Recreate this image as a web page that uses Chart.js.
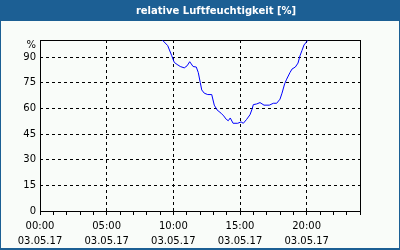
<!DOCTYPE html>
<html>
<head>
<meta charset="utf-8">
<script src="https://cdn.jsdelivr.net/npm/chart.js@4.4.0/dist/chart.umd.min.js"></script>
<style>
  body { margin: 0; background: #ffffff; }
  canvas { display: block; }
</style>
</head>
<body>
<canvas id="humChart" width="400" height="250"></canvas>
<script>
// time of day in hours (03.05.17) and relative humidity in %
const hours = [9.17, 9.58, 9.88, 10.07, 10.28, 10.52, 10.82, 11.03, 11.23, 11.48,
  11.72, 11.87, 12.02, 12.13, 12.32, 12.58, 12.88, 13.07, 13.28, 13.58,
  13.78, 13.97, 14.12, 14.27, 14.48, 14.83, 15.08, 15.25, 15.5, 15.75,
  15.9, 16.0, 16.25, 16.5, 16.8, 17.2, 17.5, 17.75, 18.0, 18.15,
  18.35, 18.5, 18.75, 18.9, 19.15, 19.35, 19.5, 19.65, 19.8, 20.0, 20.05];
const humidity = [100, 96.7, 90.8, 86.9, 85.7, 84.5, 83.7, 84.9, 87.3, 84.5,
  84.2, 81.0, 75.1, 70.8, 68.9, 68.1, 68.1, 61.9, 59.1, 57.2,
  55.6, 53.6, 52.8, 54.4, 51.3, 51.3, 52.1, 51.3, 53.6, 56.3,
  59.5, 62.2, 62.6, 63.4, 61.9, 61.9, 63.0, 63.0, 65.4, 68.9,
  74.4, 77.1, 81.0, 83.0, 84.2, 86.5, 90.8, 93.9, 97.1, 99.0, 99.8];

const xLabelHours = [0, 5, 10, 15, 20];
const xLabelTimes = ['00:00', '05:00', '10:00', '15:00', '20:00'];
const xLabelDate = '03.05.17';
const yTicks = [0, 15, 30, 45, 60, 75, 90];
const yUnitLabel = '%';
const titleText = 'relative Luftfeuchtigkeit [%]';

const fontFamily = '"DejaVu Sans", Verdana, sans-serif';

// blue frame, title bar and black box round the plot area
const framePlugin = {
  id: 'frame',
  beforeDraw(chart) {
    const ctx = chart.ctx;
    ctx.save();
    ctx.fillStyle = '#1c5f94';
    ctx.fillRect(0, 0, chart.width, chart.height);
    ctx.fillStyle = '#f9fcf9';
    ctx.fillRect(1, 21, chart.width - 2, chart.height - 23);
    ctx.fillStyle = '#ffffff';
    ctx.font = 'bold 10px ' + fontFamily;
    ctx.textAlign = 'center';
    ctx.textBaseline = 'middle';
    ctx.fillText(titleText, 216, 11);
    ctx.restore();
  },
  beforeDatasetsDraw(chart) {
    const a = chart.chartArea;
    const ctx = chart.ctx;
    ctx.save();
    ctx.strokeStyle = '#000000';
    ctx.lineWidth = 1;
    ctx.strokeRect(Math.round(a.left) + 0.5, Math.round(a.top) + 0.5,
      Math.round(a.right - a.left), Math.round(a.bottom - a.top));
    ctx.restore();
  }
};

const ctx = document.getElementById('humChart').getContext('2d');
new Chart(ctx, {
  type: 'line',
  data: {
    datasets: [{
      data: hours.map((h, i) => ({ x: h, y: humidity[i] })),
      borderColor: '#0000ff',
      borderWidth: 1,
      pointRadius: 0,
      tension: 0,
      fill: false
    }]
  },
  options: {
    responsive: false,
    animation: false,
    layout: { padding: { top: 40, right: 40, left: 0, bottom: 0 } },
    plugins: {
      legend: { display: false },
      tooltip: { enabled: false },
      title: { display: false }
    },
    scales: {
      x: {
        type: 'linear',
        min: 0,
        max: 24,
        afterBuildTicks(scale) {
          const t = [];
          for (let h = 0; h <= 24; h++) t.push({ value: h });
          scale.ticks = t;
        },
        afterFit(scale) { scale.height = 39; },
        border: { display: false, dash: [3, 3] },
        grid: {
          color: c => (c.tick && c.tick.value % 5 === 0 && c.tick.value > 0 && c.tick.value < 24) ? '#000000' : 'rgba(0,0,0,0)',
          tickColor: '#000000',
          tickLength: 4,
          tickBorderDash: [],
          lineWidth: 1
        },
        ticks: {
          autoSkip: false,
          maxRotation: 0,
          padding: 4,
          color: '#000000',
          font: { family: fontFamily, size: 10, lineHeight: 1.5 },
          callback: v => {
            const i = xLabelHours.indexOf(v);
            return i >= 0 ? [xLabelTimes[i], xLabelDate] : '';
          }
        }
      },
      y: {
        min: 0,
        max: 100,
        afterBuildTicks(scale) {
          scale.ticks = yTicks.map(v => ({ value: v })).concat([{ value: 97 }]);
        },
        afterFit(scale) { scale.width = 40; },
        border: { display: false, dash: [3, 3] },
        grid: {
          color: c => (c.tick && c.tick.value > 0 && c.tick.value <= 90) ? '#000000' : 'rgba(0,0,0,0)',
          drawTicks: false,
          lineWidth: 1
        },
        ticks: {
          padding: 4,
          color: '#000000',
          font: { family: fontFamily, size: 10 },
          callback: v => v === 97 ? yUnitLabel : String(v)
        }
      }
    }
  },
  plugins: [framePlugin]
});
</script>
</body>
</html>
